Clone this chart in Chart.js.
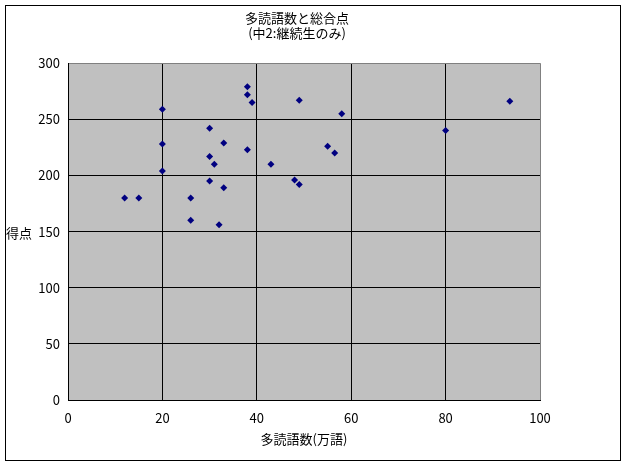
<!DOCTYPE html>
<html>
<head>
<meta charset="utf-8">
<script src="https://cdn.jsdelivr.net/npm/chart.js@4/dist/chart.umd.min.js"></script>
<style>
  html, body { margin: 0; padding: 0; background: white; }
  #box { width: 627px; height: 466px; }
</style>
</head>
<body>
<div id="box"><canvas id="scatter-chart" width="627" height="466"></canvas></div>
<script>
// Reading volume (10k words) and total score for each student
const wordsRead = [12, 15, 20, 20, 20, 26, 26, 30, 30, 30, 31, 33, 33, 32, 38, 38, 38, 39,
                   49, 58, 43, 55, 56.5, 48, 49, 93.6, 80];
const scores    = [180, 180, 259, 228, 204, 180, 160, 242, 217, 195, 210, 229, 189, 156, 279, 272, 223, 265,
                   267, 255, 210, 226, 220, 196, 192, 266, 240];
const titleLines = ["多読語数と総合点", "(中2:継続生のみ)"];
const xTitle = "多読語数(万語)";
const yTitle = "得点";

const fontFamily = "'Noto Sans CJK JP', 'DejaVu Sans', sans-serif";
Chart.defaults.font.family = fontFamily;
Chart.defaults.font.size = 12;
Chart.defaults.color = "#000";

// Gray plot background, outer frame and horizontal y label
const decorations = {
  id: "decorations",
  beforeDraw(chart) {
    const { ctx, chartArea } = chart;
    ctx.save();
    ctx.fillStyle = "#c0c0c0";
    ctx.fillRect(chartArea.left, chartArea.top, chartArea.right - chartArea.left, chartArea.bottom - chartArea.top);
    ctx.restore();
  },
  afterDraw(chart) {
    const { ctx, chartArea } = chart;
    ctx.save();
    ctx.strokeStyle = "#000";
    ctx.lineWidth = 1;
    ctx.strokeRect(5.5, 5.5, 615, 455);
    ctx.fillStyle = "#000";
    ctx.font = "13px " + fontFamily;
    ctx.textAlign = "left";
    ctx.textBaseline = "middle";
    ctx.fillText(yTitle, 6, (chartArea.top + chartArea.bottom) / 2 + 1);
    ctx.restore();
  }
};

const points = wordsRead.map((x, i) => ({ x: x, y: scores[i] }));

new Chart(document.getElementById("scatter-chart"), {
  type: "scatter",
  data: {
    datasets: [{
      data: points,
      pointStyle: "rectRot",
      pointRadius: 3.5,
      pointHoverRadius: 3.5,
      backgroundColor: "#000080",
      borderColor: "#000080",
      borderWidth: 0
    }]
  },
  options: {
    responsive: false,
    animation: false,
    layout: { padding: { left: 0, right: 33, top: 0, bottom: 0 } },
    plugins: {
      legend: { display: false },
      tooltip: { enabled: false },
      title: {
        display: true,
        text: titleLines,
        font: { size: 13, weight: "normal" },
        lineHeight: 1.2,
        padding: { top: 10, bottom: 22 }
      }
    },
    scales: {
      x: {
        type: "linear",
        min: 0,
        max: 100,
        ticks: { stepSize: 20, padding: 10, font: { size: 13 } },
        grid: {
          color: c => c.tick && c.tick.value === 100 ? "#808080" : "#000",
          drawTicks: false
        },
        border: { display: true, color: "#000" },
        title: { display: true, text: xTitle, font: { size: 13 }, padding: { top: 4, bottom: 19 } },
        afterFit: scale => { scale.height = 66; }
      },
      y: {
        type: "linear",
        min: 0,
        max: 300,
        ticks: { stepSize: 50, padding: 8, font: { size: 13 } },
        grid: {
          color: c => c.tick && c.tick.value === 300 ? "#808080" : "#000",
          drawTicks: false
        },
        border: { display: true, color: "#000" },
        afterFit: scale => { scale.width = 68; }
      },
      // empty spacer on the right so the title centres like the original
      spacer: {
        type: "linear",
        position: "right",
        min: 0,
        max: 300,
        ticks: { display: false },
        grid: { display: false, drawTicks: false },
        border: { display: false },
        afterFit: scale => { scale.width = 54; }
      }
    }
  },
  plugins: [decorations]
});
</script>
</body>
</html>
